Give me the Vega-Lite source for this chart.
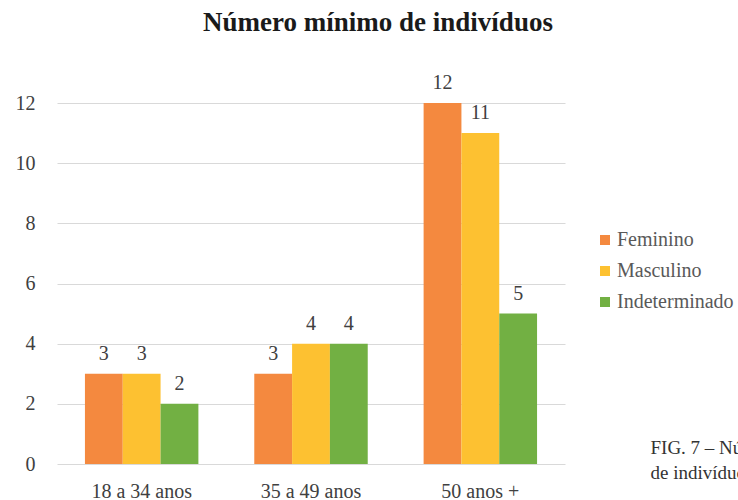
{
  "$schema": "https://vega.github.io/schema/vega-lite/v6.json",
  "width": 508,
  "height": 361,
  "autosize": {"type": "none"},
  "padding": {"left": 57, "top": 103, "right": 173, "bottom": 36},
  "title": {
    "text": "Número mínimo de indivíduos",
    "font": "Liberation Serif",
    "fontSize": 27,
    "fontWeight": "bold",
    "color": "#1a1a1a",
    "anchor": "middle",
    "dx": 67,
    "offset": 36
  },
  "data": {
    "values": [
      {"grupo": "18 a 34 anos", "sexo": "Feminino", "n": 3},
      {"grupo": "18 a 34 anos", "sexo": "Masculino", "n": 3},
      {"grupo": "18 a 34 anos", "sexo": "Indeterminado", "n": 2},
      {"grupo": "35 a 49 anos", "sexo": "Feminino", "n": 3},
      {"grupo": "35 a 49 anos", "sexo": "Masculino", "n": 4},
      {"grupo": "35 a 49 anos", "sexo": "Indeterminado", "n": 4},
      {"grupo": "50 anos +", "sexo": "Feminino", "n": 12},
      {"grupo": "50 anos +", "sexo": "Masculino", "n": 11},
      {"grupo": "50 anos +", "sexo": "Indeterminado", "n": 5}
    ]
  },
  "encoding": {
    "x": {
      "field": "grupo",
      "type": "nominal",
      "sort": ["18 a 34 anos", "35 a 49 anos", "50 anos +"],
      "scale": {"paddingInner": 0.33, "paddingOuter": 0.165},
      "axis": {
        "labelAngle": 0,
        "labelFont": "Liberation Serif",
        "labelFontSize": 20,
        "labelColor": "#404040",
        "labelBaseline": "alphabetic",
        "labelPadding": 33,
        "ticks": false,
        "tickSize": 0,
        "domain": false,
        "title": ["FIG. 7 – Número mínimo", "de indivíduos"],
        "titleFont": "Liberation Serif",
        "titleFontSize": 19,
        "titleFontWeight": "normal",
        "titleColor": "#333333",
        "titleAlign": "left",
        "titleBaseline": "alphabetic",
        "titleLineHeight": 25,
        "titleX": 593,
        "titleY": -11
      }
    },
    "xOffset": {
      "field": "sexo",
      "type": "nominal",
      "sort": ["Feminino", "Masculino", "Indeterminado"]
    },
    "y": {
      "field": "n",
      "type": "quantitative",
      "scale": {"domain": [0, 12]},
      "axis": {
        "values": [0, 2, 4, 6, 8, 10, 12],
        "title": null,
        "labelFont": "Liberation Serif",
        "labelFontSize": 20,
        "labelColor": "#404040",
        "labelPadding": 22,
        "ticks": false,
        "tickSize": 0,
        "domain": false,
        "grid": true,
        "gridColor": "#d9d9d9",
        "gridWidth": 1
      }
    }
  },
  "layer": [
    {
      "mark": {"type": "bar"},
      "encoding": {
        "color": {
          "field": "sexo",
          "type": "nominal",
          "sort": ["Feminino", "Masculino", "Indeterminado"],
          "scale": {
            "domain": ["Feminino", "Masculino", "Indeterminado"],
            "range": ["#F4893F", "#FDC131", "#72B043"]
          },
          "legend": {
            "orient": "none",
            "legendX": 538,
            "legendY": 127,
            "title": null,
            "symbolType": "square",
            "symbolSize": 100,
            "symbolStrokeWidth": 0,
            "labelFont": "Liberation Serif",
            "labelFontSize": 20,
            "labelColor": "#595959",
            "labelOffset": 2,
            "rowPadding": 11
          }
        }
      }
    },
    {
      "mark": {
        "type": "text",
        "baseline": "alphabetic",
        "dy": -14,
        "font": "Liberation Serif",
        "fontSize": 20,
        "color": "#404040"
      },
      "encoding": {
        "text": {"field": "n", "type": "quantitative"}
      }
    }
  ],
  "config": {"view": {"stroke": null}}
}
